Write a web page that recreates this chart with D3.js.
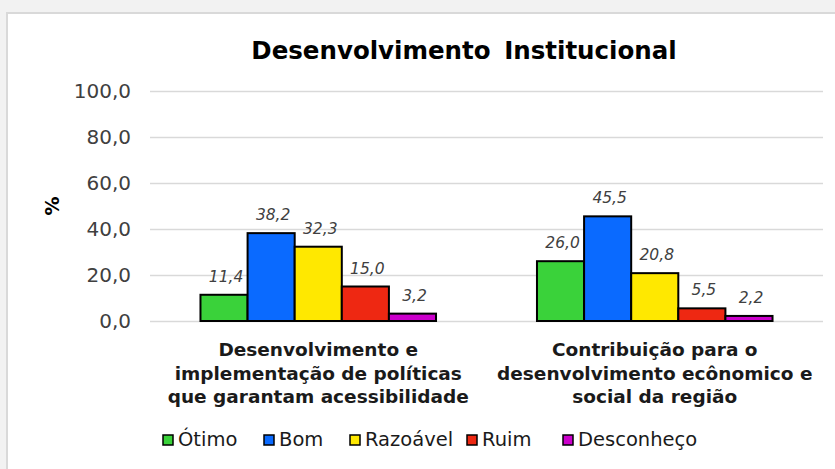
<!DOCTYPE html>
<html>
<head>
<meta charset="utf-8">
<script src="https://d3js.org/d3.v7.min.js"></script>
<style>
    body { margin: 0; background: #f2f2f2; }
    svg text { font-family: "DejaVu Sans", sans-serif; }
</style>
</head>
<body>
<div id="chart"></div>
<script>
// data
const categories = [
    ["Desenvolvimento e", "implementação de políticas", "que garantam acessibilidade"],
    ["Contribuição para o", "desenvolvimento ecônomico e", "social da região"]
];
const series = ["Ótimo", "Bom", "Razoável", "Ruim", "Desconheço"];
const colors = ["#3ad23a", "#0a6aff", "#ffe800", "#ee2812", "#cc00cc"];
const values = [
    [11.4, 38.2, 32.3, 15.0, 3.2],
    [26.0, 45.5, 20.8, 5.5, 2.2]
];
const yTicks = [0, 20, 40, 60, 80, 100];

const W = 835, H = 469;
const plot = { left: 150, right: 823, top: 91, bottom: 321 };

const svg = d3.select("#chart").append("svg")
    .attr("width", W).attr("height", H);

// white chart panel
svg.append("rect")
    .attr("x", 7).attr("y", 13)
    .attr("width", W + 10).attr("height", H + 10)
    .attr("fill", "white").attr("stroke", "#d9d9d9").attr("stroke-width", 2);

var x0 = d3.scaleBand()
    .domain(d3.range(categories.length))
    .range([plot.left, plot.right])
    .paddingInner(0.3).paddingOuter(0.15);

var x1 = d3.scaleBand()
    .domain(d3.range(series.length))
    .range([0, x0.bandwidth()]);

var y = d3.scaleLinear().domain([0, 100]).range([plot.bottom, plot.top]);

// gridlines + tick labels
var yAxis = svg.append("g")
    .attr("transform", "translate(" + plot.left + ",0)")
    .call(d3.axisLeft(y).tickValues(yTicks)
        .tickSize(-(plot.right - plot.left))
        .tickPadding(19)
        .tickFormat(d => d3.format(".1f")(d).replace(".", ",")));
yAxis.select(".domain").remove();
yAxis.selectAll("line").attr("stroke", "#d9d9d9").attr("stroke-width", 1.5);
yAxis.selectAll("text").attr("fill", "#404040").style("font-size", "20px");

// title
svg.append("text")
    .attr("x", 464).attr("y", 59)
    .attr("text-anchor", "middle")
    .style("font-size", "24.5px").style("font-weight", "bold")
    .style("word-spacing", "5px")
    .text("Desenvolvimento Institucional");

// y label
svg.append("text")
    .attr("transform", "translate(59,206) rotate(-90)")
    .attr("text-anchor", "middle")
    .style("font-size", "19px").style("font-weight", "bold")
    .text("%");

// bars
var groups = svg.selectAll(".grp").data(values).enter().append("g")
    .attr("class", "grp")
    .attr("transform", (d, i) => "translate(" + x0(i) + ",0)");

groups.selectAll("rect").data(d => d).enter().append("rect")
    .attr("x", (d, i) => x1(i))
    .attr("y", d => y(d))
    .attr("width", x1.bandwidth())
    .attr("height", d => y(0) - y(d))
    .attr("fill", (d, i) => colors[i])
    .attr("stroke", "black").attr("stroke-width", 2);

groups.selectAll(".lbl").data(d => d).enter().append("text")
    .attr("class", "lbl")
    .attr("x", (d, i) => x1(i) + x1.bandwidth() / 2 + 2)
    .attr("y", d => y(d) - 13)
    .attr("text-anchor", "middle")
    .attr("fill", "#404040")
    .style("font-size", "15.5px").style("font-style", "italic")
    .text(d => d3.format(".1f")(d).replace(".", ","));

// category labels
categories.forEach(function(lines, i) {
    var cx = x0(i) + x0.bandwidth() / 2;
    var t = svg.append("text")
        .attr("x", cx)
        .attr("y", 356)
        .attr("text-anchor", "middle")
        .style("font-size", "18.5px").style("font-weight", "bold")
        .attr("fill", "#1a1a1a");
    lines.forEach(function(l, j) {
        t.append("tspan").attr("x", cx)
            .attr("dy", j ? 23.5 : 0).text(l);
    });
});

// legend
var legX = [163, 264, 350, 467, 563];
var leg = svg.selectAll(".leg").data(series).enter().append("g")
    .attr("class", "leg")
    .attr("transform", (d, i) => "translate(" + legX[i] + ",446)");
leg.append("rect")
    .attr("x", 0).attr("y", -11).attr("width", 10).attr("height", 10)
    .attr("fill", (d, i) => colors[i])
    .attr("stroke", "black").attr("stroke-width", 1.5);
leg.append("text")
    .attr("x", 15).attr("y", 0)
    .attr("fill", "#1a1a1a")
    .style("font-size", "19.5px")
    .text(d => d);
</script>
</body>
</html>
